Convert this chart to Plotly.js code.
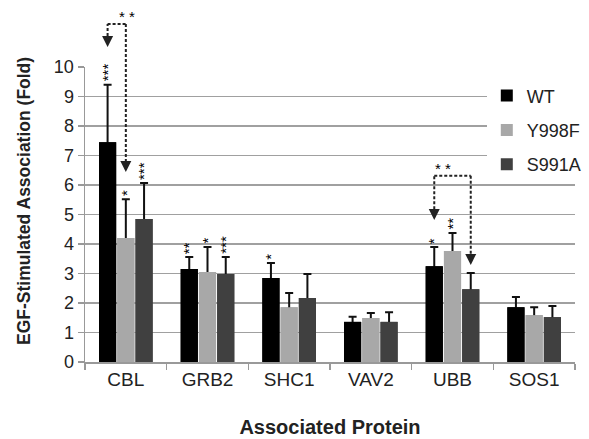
<!DOCTYPE html>
<html>
<head>
<meta charset="utf-8">
<script src="https://cdn.plot.ly/plotly-3.0.1.min.js"></script>
<style>html,body{margin:0;padding:0;background:#fff;}#chart{width:589px;height:439px;}</style>
</head>
<body>
<div id="chart"></div>
<script>
// ---- data ----
const categories = ['CBL', 'GRB2', 'SHC1', 'VAV2', 'UBB', 'SOS1'];
const seriesNames = ['WT', 'Y998F', 'S991A'];
const wtValues    = [7.45, 3.15, 2.85, 1.36, 3.25, 1.86];
const y998fValues = [4.20, 3.05, 1.86, 1.49, 3.76, 1.59];
const s991aValues = [4.85, 2.98, 2.17, 1.36, 2.47, 1.52];
const wtErrTop    = [9.40, 3.56, 3.36, 1.53, 3.90, 2.20];
const y998fErrTop = [5.52, 3.90, 2.34, 1.66, 4.37, 1.86];
const s991aErrTop = [6.07, 3.56, 2.98, 1.69, 3.02, 1.90];
const wtSig    = ['***', '**', '*', '', '*', ''];
const y998fSig = ['*', '*', '', '', '**', ''];
const s991aSig = ['***', '***', '', '', '', ''];
const yTicks = [0,1,2,3,4,5,6,7,8,9,10];
const yTitle = 'EGF-Stimulated Association (Fold)';
const xTitle = 'Associated Protein';

// comparisons: category, from series, to series, label
const comparisons = [
  {cat: 0, from: 0, to: 1, label: '**', top: 11.46, fromTip: 10.68, toTip: 6.44},
  {cat: 4, from: 0, to: 2, label: '**', top: 6.31, fromTip: 4.81, toTip: 3.29}
];

const colors = ['#000000', '#a8a8a8', '#404040'];
const values = [wtValues, y998fValues, s991aValues];
const errTops = [wtErrTop, y998fErrTop, s991aErrTop];
const sigs = [wtSig, y998fSig, s991aSig];

const bargap = 0.33, bargroupgap = 0.06;
const slot = (1 - bargap) / 3;
const nCat = categories.length;
const yMax = 10;
function px(cat, s) { return (cat + (s - 1) * slot + 0.5) / nCat; }
function py(v) { return v / yMax; }

const traces = [];
for (let s = 0; s < 3; s++) {
  traces.push({
    type: 'bar', x: categories, y: values[s], name: seriesNames[s],
    marker: {color: colors[s]}, legendgroup: 'g' + s,
    error_y: {type: 'data', symmetric: false,
      array: errTops[s].map((t, i) => t - values[s][i]),
      arrayminus: values[s].map(() => 0.12),
      color: '#111', thickness: 2, width: 4},
    xaxis: 'x', yaxis: 'y', hoverinfo: 'skip'
  });
}
for (let s = 0; s < 3; s++) {
  traces.push({
    type: 'bar', x: categories, y: values[s], name: seriesNames[s],
    marker: {color: colors[s]}, showlegend: false,
    xaxis: 'x', yaxis: 'y2', hoverinfo: 'skip'
  });
}

const starFont = {family: 'Liberation Sans, Arial, sans-serif', size: 15, color: '#000000'};
const shapes = [];
const annotations = [];
comparisons.forEach(c => {
  const x0 = px(c.cat, c.from), x1 = px(c.cat, c.to);
  const line = {color: '#222', width: 2, dash: '3px,2px'};
  shapes.push({type: 'line', xref: 'paper', yref: 'paper', x0: x0, x1: x0, y0: py(c.fromTip) + 0.02, y1: py(c.top), line: line});
  shapes.push({type: 'line', xref: 'paper', yref: 'paper', x0: x0, x1: x1, y0: py(c.top), y1: py(c.top), line: line});
  shapes.push({type: 'line', xref: 'paper', yref: 'paper', x0: x1, x1: x1, y0: py(c.top), y1: py(c.toTip) + 0.02, line: line});
  [[x0, c.fromTip], [x1, c.toTip]].forEach(p => {
    annotations.push({xref: 'paper', yref: 'paper', x: p[0], y: py(p[1]), text: '',
      showarrow: true, ax: 0, ay: -9, arrowhead: 2, arrowsize: 1.1, arrowwidth: 2, arrowcolor: '#222'});
  });
  annotations.push({xref: 'paper', yref: 'paper', x: (x0 + x1) / 2, y: py(c.top), yanchor: 'bottom',
    text: c.label.split('').join(' '), showarrow: false, yshift: -3, font: starFont});
});
for (let s = 0; s < 3; s++) {
  sigs[s].forEach((t, i) => {
    if (!t) return;
    annotations.push({xref: 'paper', yref: 'paper', x: px(i, s), y: py(errTops[s][i]),
      yanchor: 'bottom', xanchor: 'center', text: t, textangle: -90, showarrow: false,
      yshift: 1, xshift: 0, font: starFont});
  });
}
// y-axis title (placed slightly above centre, as in the original)
annotations.push({xref: 'paper', yref: 'paper', x: -0.125, y: 0.545, xanchor: 'center', yanchor: 'middle',
  text: '<b>' + yTitle + '</b>', textangle: -90, showarrow: false,
  font: {family: 'Liberation Sans, Arial, sans-serif', size: 17.5, color: '#222'}});

const font = {family: 'Liberation Sans, Arial, sans-serif', size: 18, color: '#222'};
const layout = {
  width: 589, height: 439,
  margin: {l: 85, r: 2, t: 67, b: 77},
  paper_bgcolor: '#fff', plot_bgcolor: '#fff',
  font: font,
  barmode: 'group', bargap: bargap, bargroupgap: bargroupgap,
  showlegend: true,
  legend: {x: 0.82, xanchor: 'left', y: 0.965, yanchor: 'top', bgcolor: '#fff',
    font: {family: font.family, size: 18, color: '#222'}, tracegroupgap: 8,
    traceorder: 'grouped', itemwidth: 30},
  xaxis: {type: 'category', range: [-0.5, nCat - 0.5], showline: true, linecolor: '#999', linewidth: 1.5,
    ticks: 'outside', tickson: 'boundaries', ticklen: 6, tickcolor: '#999', tickwidth: 1.5,
    showgrid: false, automargin: false, tickfont: {size: 19, color: '#222'},
    title: {text: '<b>' + xTitle + '</b>', font: {size: 20, color: '#222'}, standoff: 30}},
  yaxis: {range: [0, yMax], tickvals: yTicks, ticktext: yTicks.map(String), showline: true, linecolor: '#999', linewidth: 1.5,
    ticks: 'outside', ticklen: 6, tickcolor: '#999', tickwidth: 1.5,
    showgrid: true, gridcolor: '#a0a0a0', gridwidth: 1.5, zeroline: false, automargin: false,
    tickfont: {size: 18, color: '#222'}},
  yaxis2: {range: [0, yMax], overlaying: 'y', visible: false, showgrid: false, zeroline: false},
  shapes: shapes,
  annotations: annotations
};
Plotly.newPlot('chart', traces, layout, {displayModeBar: false, staticPlot: true});
</script>
</body>
</html>
